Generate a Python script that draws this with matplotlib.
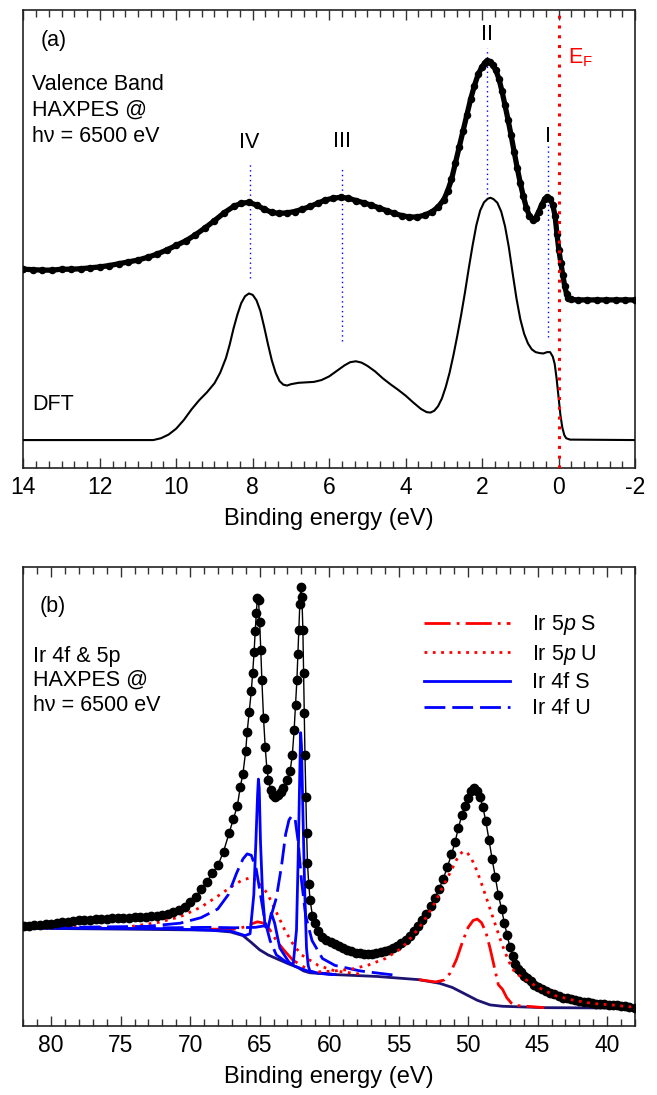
import matplotlib
matplotlib.use("Agg")
import matplotlib.pyplot as plt
from matplotlib.ticker import MultipleLocator

plt.rcParams['font.family'] = ['Liberation Sans', 'DejaVu Sans']
plt.rcParams['mathtext.fontset'] = 'custom'
plt.rcParams['mathtext.rm'] = 'Liberation Sans'
plt.rcParams['mathtext.it'] = 'Liberation Sans:italic'
plt.rcParams['axes.unicode_minus'] = False

# ---------------- (a) valence band ----------------
vb_energy = [14.0, 13.75, 13.5, 13.25, 13.0, 12.75, 12.5, 12.25, 12.0, 11.75, 11.5, 11.25,
             11.0, 10.75, 10.5, 10.25, 10.0, 9.75, 9.5, 9.25, 9.0, 8.75, 8.5, 8.3, 8.1,
             7.9, 7.7, 7.5, 7.3, 7.1, 6.9, 6.7, 6.5, 6.3, 6.1, 5.9, 5.7, 5.5, 5.3, 5.1,
             4.9, 4.7, 4.5, 4.3, 4.1, 3.9, 3.7, 3.5, 3.3, 3.15, 3.0, 2.9, 2.8, 2.7, 2.6,
             2.5, 2.4, 2.3, 2.2, 2.1, 2.0, 1.93, 1.86, 1.79, 1.72, 1.64, 1.56, 1.48, 1.4,
             1.32, 1.24, 1.16, 1.08, 1.0, 0.92, 0.84, 0.76, 0.68, 0.6, 0.52, 0.44, 0.36,
             0.29, 0.22, 0.15, 0.09, 0.04, -0.01, -0.06, -0.11, -0.16, -0.21, -0.26, -0.32,
             -0.5, -0.75, -1.0, -1.25, -1.5, -1.75, -2.0]
vb_intensity = [43.4, 43.3, 43.2, 43.2, 43.4, 43.4, 43.5, 43.7, 43.9, 44.2, 44.6, 45.0,
                45.4, 46.0, 46.7, 47.6, 48.6, 49.6, 50.9, 52.4, 54.0, 55.7, 57.1, 57.8, 58.0,
                57.4, 56.5, 55.8, 55.6, 55.7, 56.0, 56.5, 57.1, 57.8, 58.5, 58.9, 59.1, 58.9,
                58.4, 57.9, 57.4, 56.8, 56.2, 55.6, 55.1, 54.8, 54.8, 55.2, 56.0, 57.0, 58.6,
                60.5, 63.0, 66.5, 70.0, 73.5, 77.0, 80.5, 83.5, 86.0, 87.6, 88.4, 88.9, 88.6,
                88.0, 86.8, 85.0, 82.3, 79.2, 76.0, 72.6, 69.0, 65.5, 62.2, 59.3, 56.8, 55.0,
                54.2, 54.6, 55.9, 57.5, 58.7, 59.2, 58.8, 57.4, 55.0, 51.0, 47.5, 44.8, 42.2,
                39.8, 38.0, 37.1, 36.8, 36.7, 36.7, 36.7, 36.7, 36.7, 36.7, 36.7]

dft_energy = [14.0, 10.6, 10.4, 10.2, 10.0, 9.8, 9.6, 9.4, 9.2, 9.0, 8.85, 8.7, 8.6, 8.5,
              8.4, 8.3, 8.2, 8.1, 8.0, 7.9, 7.8, 7.7, 7.6, 7.5, 7.4, 7.3, 7.2, 7.1, 7.0,
              6.8, 6.6, 6.4, 6.2, 6.0, 5.8, 5.6, 5.45, 5.3, 5.15, 5.0, 4.8, 4.6, 4.4, 4.2,
              4.0, 3.8, 3.6, 3.45, 3.35, 3.25, 3.15, 3.05, 2.95, 2.85, 2.75, 2.65, 2.55,
              2.45, 2.35, 2.25, 2.15, 2.05, 1.95, 1.85, 1.78, 1.7, 1.6, 1.5, 1.4, 1.3, 1.2,
              1.1, 1.0, 0.9, 0.8, 0.7, 0.6, 0.5, 0.4, 0.3, 0.22, 0.15, 0.1, 0.05, 0.0, -0.05,
              -0.1, -0.15, -0.2, -0.3, -2.0]
dft_intensity = [6.1, 6.1, 6.5, 7.3, 8.6, 10.5, 12.8, 14.8, 16.5, 18.5, 20.8, 24.0, 27.0,
                 30.5, 33.5, 36.0, 37.5, 38.1, 37.8, 36.6, 34.3, 30.8, 27.0, 23.5, 20.8, 19.0,
                 18.2, 18.0, 18.3, 18.6, 18.7, 18.8, 19.2, 20.0, 21.2, 22.4, 23.1, 23.3, 23.0,
                 22.3, 21.1, 19.6, 18.3, 17.1, 15.8, 14.3, 12.9, 12.2, 12.1, 12.5, 13.5, 15.2,
                 17.7, 20.8, 24.6, 28.8, 33.3, 38.2, 43.5, 48.5, 53.0, 56.2, 58.0, 58.8, 59.0,
                 58.7, 57.9, 56.0, 52.8, 48.2, 42.5, 37.0, 32.5, 29.3, 27.2, 25.9, 25.3, 25.1,
                 25.0, 25.3, 25.3, 24.3, 22.7, 19.5, 15.5, 11.5, 8.8, 7.2, 6.5, 6.2, 6.1]

peak_labels = ['IV', 'III', 'II', 'I']
peak_pos = [8.08, 5.66, 1.86, 0.27]
peak_label_y = [71.1, 71.3, 94.7, 72.3]
guide_top = [66.3, 65.2, 91.8, 70.3]
guide_bottom = [41.4, 27.7, 59.8, 28.5]
fermi_level = 0.0

# ---------------- (b) Ir 4f & 5p ----------------
core_energy = [81.96, 81.6, 81.2, 80.8, 80.4, 80.0, 79.6, 79.2, 78.8, 78.4, 78.0, 77.6, 77.2,
               76.8, 76.4, 76.0, 75.6, 75.2, 74.8, 74.4, 74.0, 73.6, 73.2, 72.8, 72.4, 72.0,
               71.6, 71.2, 70.8, 70.4, 70.0, 69.6, 69.2, 68.8, 68.4, 68.0, 67.6, 67.2, 66.9,
               66.6, 66.4, 66.2, 66.0, 65.9, 65.75, 65.6, 65.5, 65.4, 65.32, 65.24, 65.16,
               65.08, 65.0, 64.92, 64.84, 64.72, 64.6, 64.48, 64.37, 64.2, 64.05, 63.88, 63.7,
               63.5, 63.29, 63.05, 62.81, 62.65, 62.52, 62.42, 62.32, 62.25, 62.18, 62.11,
               62.04, 61.96, 61.89, 61.84, 61.8, 61.74, 61.68, 61.62, 61.56, 61.47, 61.37,
               61.2, 61.0, 60.8, 60.5, 60.2, 59.9, 59.6, 59.3, 59.0, 58.7, 58.4, 58.1, 57.8,
               57.5, 57.2, 56.9, 56.6, 56.3, 56.0, 55.7, 55.4, 55.1, 54.8, 54.5, 54.2, 53.9,
               53.6, 53.3, 53.0, 52.7, 52.4, 52.1, 51.8, 51.5, 51.2, 50.95, 50.7, 50.45,
               50.24, 50.0, 49.79, 49.58, 49.34, 49.15, 48.95, 48.73, 48.5, 48.28, 48.05,
               47.83, 47.6, 47.4, 47.2, 47.0, 46.8, 46.6, 46.4, 46.2, 46.0, 45.76, 45.5,
               45.25, 45.0, 44.7, 44.4, 44.1, 43.8, 43.5, 43.2, 42.9, 42.6, 42.3, 42.0, 41.7,
               41.4, 41.1, 40.8, 40.5, 40.2, 39.9, 39.6, 39.3, 39.0, 38.7, 38.4, 37.98]
core_intensity = [21.7, 21.8, 21.9, 22.0, 22.2, 22.3, 22.5, 22.6, 22.7, 22.9, 23.0, 23.1, 23.2,
                  23.3, 23.4, 23.4, 23.5, 23.5, 23.6, 23.6, 23.7, 23.7, 23.8, 23.9, 24.0, 24.2,
                  24.4, 24.8, 25.3, 26.0, 27.0, 28.2, 29.8, 31.4, 33.3, 35.0, 38.0, 42.0, 45.0,
                  48.0, 52.0, 55.0, 60.0, 64.0, 68.5, 73.0, 77.0, 81.5, 86.0, 90.0, 93.2,
                  92.8, 88.0, 82.0, 75.4, 67.0, 60.8, 56.0, 53.6, 51.5, 50.4, 50.0, 50.3,
                  51.0, 51.8, 53.5, 55.5, 59.0, 64.5, 70.0, 75.4, 81.0, 86.3, 92.0,
                  95.7, 93.5, 86.3, 77.0, 68.2, 59.0, 50.0, 42.0, 35.5, 31.0, 27.4,
                  24.0, 22.5, 20.7, 19.5, 18.7, 18.3, 17.9, 17.4, 17.0, 16.6, 16.3, 16.0, 15.8,
                  15.6, 15.6, 15.7, 15.9, 16.1, 16.3, 16.6, 17.0, 17.5, 18.1, 18.8, 19.6, 20.7,
                  21.8, 23.0, 24.5, 26.1, 27.8, 29.8, 32.0, 34.6, 37.4, 40.0, 43.2, 46.0,
                  48.0, 49.6, 51.1, 51.9, 51.2, 49.8, 47.8, 44.6, 40.5, 36.4, 32.5,
                  28.6, 25.5, 22.5, 19.8, 17.3, 15.2, 13.6, 12.5, 11.7, 11.0, 10.4, 9.7,
                  9.0, 8.5, 8.0, 7.6, 7.2, 6.9, 6.5, 6.2, 6.0, 5.8, 5.6, 5.4, 5.3,
                  5.2, 5.0, 4.9, 4.85, 4.75, 4.65, 4.55, 4.5, 4.4, 4.3, 4.2, 4.0]

bg_energy = [81.96, 74.64, 68.61, 67.11, 66.20, 65.60, 65.00, 64.40, 63.80, 62.89, 62.29,
             61.84, 61.39, 59.58, 56.57, 53.55, 52.05, 51.14, 50.24, 49.34, 48.43, 47.53,
             44.52, 37.98]
bg_intensity = [21.3, 21.1, 20.9, 20.5, 19.7, 18.2, 16.6, 15.5, 14.7, 13.5, 12.8,
                12.0, 11.6, 11.2, 10.8, 10.1, 9.3, 8.4, 7.0, 5.6, 4.6, 4.3, 4.0, 3.9]

f4_s_energy = [81.96, 71.63, 67.11, 66.05, 65.69, 65.42, 65.27, 65.15, 65.09, 65.03, 64.94,
               64.79, 64.61, 64.40, 64.16, 63.92, 63.55, 62.89, 62.59, 62.35, 62.23, 62.11,
               62.05, 61.99, 61.87, 61.75, 61.63, 61.51, 61.39, 60.78, 59.58]
f4_s_intensity = [21.4, 21.2, 20.7, 19.7, 20.1, 28.6, 40.2, 50.3, 53.8, 51.9, 40.2,
                  28.6, 21.7, 21.3, 24.6, 22.4, 17.0, 13.9, 13.3, 20.9, 36.4, 55.7,
                  63.9, 61.1, 44.1, 28.6, 17.0, 13.2, 12.0, 11.5, 11.2]

f4_u1_energy = [81.96, 73.13, 70.72, 69.22, 68.01, 67.26, 66.66, 66.20, 65.90, 65.60, 65.24,
                64.94, 64.64, 64.25, 63.80, 62.89, 61.39, 59.58]
f4_u1_intensity = [21.4, 21.7, 22.4, 23.6, 25.5, 28.6, 33.3, 36.4, 37.5, 37.2, 34.1,
                   28.6, 23.2, 18.6, 15.5, 13.5, 11.8, 11.2]
f4_u2_energy = [81.96, 71.63, 68.61, 66.81, 65.30, 64.70, 64.25, 63.80, 63.43, 63.13, 62.89,
                62.68, 62.44, 62.23, 61.99, 61.69, 61.23, 60.48, 59.58, 57.77, 55.06]
f4_u2_intensity = [21.4, 21.4, 21.5, 21.4, 21.5, 21.8, 23.2, 27.9, 34.8, 41.8, 44.9,
                   45.8, 44.9, 40.2, 31.7, 24.0, 18.6, 14.7, 13.2, 12.0, 11.0]

p5_u1_energy = [81.96, 74.64, 72.23, 70.72, 69.22, 68.01, 67.11, 66.36, 65.60, 65.00, 64.40,
                63.80, 63.19, 62.59, 61.99, 60.78, 59.58, 57.47]
p5_u1_intensity = [21.4, 21.5, 22.6, 23.8, 25.9, 28.3, 30.2, 31.6, 32.4, 31.3, 28.6,
                   24.8, 20.9, 17.8, 15.5, 13.2, 12.0, 11.2]
p5_u2_energy = [60.78, 59.58, 58.37, 57.17, 55.96, 54.76, 53.55, 52.95, 52.35, 51.9, 51.45,
                51.1, 50.84, 50.6, 50.39, 50.1, 49.79, 49.5, 49.19, 48.9, 48.58, 48.28, 47.98,
                47.68, 47.38, 47.0, 46.63, 45.8, 45.09, 43.72, 42.4, 41.03, 39.71, 38.44, 37.98]
p5_u2_intensity = [11.8, 12.0, 12.4, 13.3, 14.7, 17.0, 21.3, 24.0, 27.1, 29.9, 32.5,
                   34.6, 36.2, 37.4, 38.0, 37.9, 36.6, 34.8, 32.3, 29.8, 26.9, 24.2, 21.5,
                   18.8, 16.3, 13.6, 11.6, 10.0, 8.6, 6.6, 5.6, 4.9, 4.6, 4.2, 4.1]

p5_s1_energy = [68.61, 66.81, 65.90, 65.45, 65.15, 64.70, 64.25, 63.80, 63.19, 62.59, 62.14, 61.39]
p5_s1_intensity = [21.1, 21.1, 21.7, 22.4, 22.7, 22.4, 20.9, 18.6, 16.3, 14.3, 13.5, 12.0]
p5_s2_energy = [53.55, 52.35, 51.75, 51.3, 50.84, 50.39, 50.0, 49.64, 49.34, 49.04, 48.73,
                48.43, 48.13, 47.83, 47.53, 47.23, 46.9, 46.63, 44.52]
p5_s2_intensity = [10.1, 9.6, 10.0, 11.5, 14.5, 18.5, 21.5, 23.0, 23.3, 22.5, 20.5,
                   17.0, 13.0, 9.0, 8.0, 6.2, 5.0, 4.5, 4.0]

legend_labels = ['Ir 5$\\it{p}$ S', 'Ir 5$\\it{p}$ U', 'Ir 4f S', 'Ir 4f U']

RED = '#ff0000'
BLUE = '#0000ff'

fig = plt.figure(figsize=(6.57, 10.95), dpi=100)
ax1 = fig.add_axes([0.0355, 0.5726, 0.931, 0.4183])
ax2 = fig.add_axes([0.0355, 0.0630, 0.931, 0.4192])

def style(ax, major, minor):
    ax.xaxis.set_major_locator(MultipleLocator(major))
    ax.xaxis.set_minor_locator(MultipleLocator(minor))
    ax.tick_params(axis='x', which='both', direction='in', top=True, bottom=True,
                   labelsize=16.5, pad=6, width=1.0, color='#333333')
    ax.tick_params(axis='x', which='major', length=7.5)
    ax.tick_params(axis='x', which='minor', length=5)
    ax.set_yticks([])
    for s in ax.spines.values():
        s.set_linewidth(1.2)
        s.set_color('#222222')
    ax.set_ylim(0, 100)
    ax.set_xlabel('Binding energy (eV)', fontsize=17, labelpad=6)

TXT = 15.5

# ---- panel (a)
ax1.plot(vb_energy, vb_intensity, color='black', lw=3.8, marker='o', ms=4.4,
         solid_joinstyle='round', solid_capstyle='round', zorder=3)
ax1.plot(dft_energy, dft_intensity, color='black', lw=1.5, zorder=3)
ax1.vlines(peak_pos, guide_bottom, guide_top, colors=BLUE, linestyles=(0, (1, 2.5)), lw=1.0, zorder=2)
ax1.axvline(fermi_level, color=RED, lw=2.2, linestyle=(0, (1, 2.2)), zorder=4)
for lab, x, y in zip(peak_labels, peak_pos, peak_label_y):
    ax1.text(x, y, lab, fontsize=TXT, ha='center', va='center')
ax1.text(13.55, 93.4, '(a)', fontsize=TXT, ha='left', va='center')
ax1.text(13.77, 83.8, 'Valence Band', fontsize=TXT, ha='left', va='center')
ax1.text(13.77, 78.1, 'HAXPES @', fontsize=TXT, ha='left', va='center')
ax1.text(13.77, 72.3, 'h\u03bd = 6500 eV', fontsize=TXT, ha='left', va='center')
ax1.text(13.77, 13.9, 'DFT', fontsize=TXT, ha='left', va='center')
ax1.text(-0.25, 89.5, 'E$_\\mathregular{F}$', fontsize=TXT, color=RED, ha='left', va='center')
ax1.set_xlim(14, -2)
style(ax1, 2, 2 / 6)

# ---- panel (b)
ax2.plot(bg_energy, bg_intensity, color='#1c1470', lw=2.0, zorder=2)
ax2.plot(p5_s1_energy, p5_s1_intensity, color=RED, lw=2, linestyle=(0, (9.4, 2.2, 1, 2.2)),
         label=legend_labels[0], zorder=3)
ax2.plot(p5_s2_energy, p5_s2_intensity, color=RED, lw=2, linestyle=(0, (9.4, 2.2, 1, 2.2)), zorder=3)
ax2.plot(p5_u1_energy, p5_u1_intensity, color=RED, lw=2, linestyle=(0, (1, 2)),
         label=legend_labels[1], zorder=3)
ax2.plot(p5_u2_energy, p5_u2_intensity, color=RED, lw=2, linestyle=(0, (1, 2)), zorder=5)
ax2.plot(f4_s_energy, f4_s_intensity, color=BLUE, lw=2, label=legend_labels[2], zorder=3)
ax2.plot(f4_u1_energy, f4_u1_intensity, color=BLUE, lw=2, linestyle=(0, (7.5, 2.5)),
         label=legend_labels[3], zorder=3)
ax2.plot(f4_u2_energy, f4_u2_intensity, color=BLUE, lw=2, linestyle=(0, (7.5, 2.5)), zorder=3)
ax2.plot(core_energy, core_intensity, color='black', lw=1.0, marker='o', ms=6.0, zorder=4)
ax2.text(80.8, 91.3, '(b)', fontsize=TXT, ha='left', va='center')
ax2.text(81.33, 80.6, 'Ir 4f & 5p', fontsize=TXT, ha='left', va='center')
ax2.text(81.33, 75.3, 'HAXPES @', fontsize=TXT, ha='left', va='center')
ax2.text(81.33, 69.8, 'h\u03bd = 6500 eV', fontsize=TXT, ha='left', va='center')
ax2.set_xlim(82, 38)
style(ax2, 5, 1)
ax2.legend(loc='upper left', bbox_to_anchor=(0.655, 0.899), frameon=False, fontsize=TXT,
           handlelength=4.0, handletextpad=1.0, labelspacing=0.25, borderpad=0, borderaxespad=0)

fig.savefig('out.png', dpi=100)
